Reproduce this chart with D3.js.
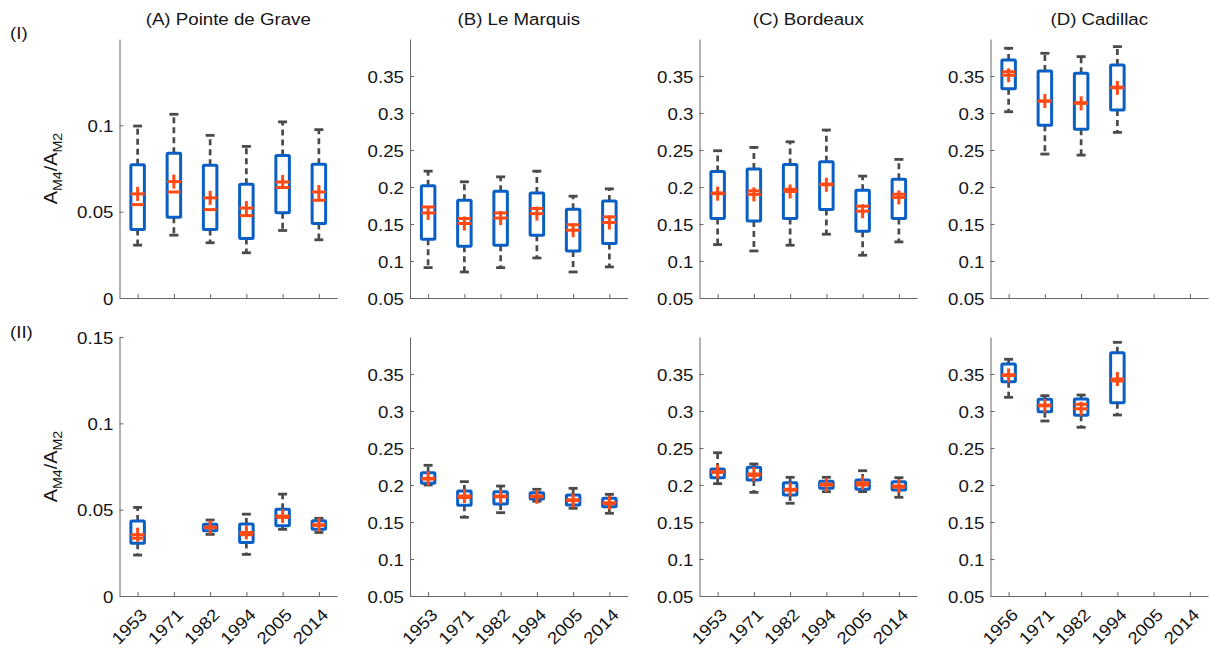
<!DOCTYPE html>
<html><head><meta charset="utf-8">
<script src="https://cdn.jsdelivr.net/npm/d3@7"></script>
<style>
html,body{margin:0;padding:0;background:#fff;}
svg text{font-family:"Liberation Sans",Arial,sans-serif;fill:#141414;}
</style></head>
<body>
<svg id="chart" width="1211" height="648"></svg>
<script>
// ---- data ----
const yearsMain = ["1953", "1971", "1982", "1994", "2005", "2014"];
const yearsCadillac = ["1956", "1971", "1982", "1994", "2005", "2014"];
const stationTitles = ["(A) Pointe de Grave", "(B) Le Marquis", "(C) Bordeaux", "(D) Cadillac"];
const rowLabels = ["(I)", "(II)"];
const ticksA_I = [0, 0.05, 0.1];
const ticksA_II = [0, 0.05, 0.1, 0.15];
const ticksBCD = [0.05, 0.1, 0.15, 0.2, 0.25, 0.3, 0.35];
const tickLabelsA_I = ["0", "0.05", "0.1"];
const tickLabelsA_II = ["0", "0.05", "0.1", "0.15"];
const tickLabelsBCD = ["0.05", "0.1", "0.15", "0.2", "0.25", "0.3", "0.35"];

// [lower whisker, q1, median, q3, upper whisker, mean] ; null = no data
const statsA_I = [
  [0.0306, 0.0397, 0.0541, 0.0771, 0.0996, 0.0603],
  [0.0364, 0.0467, 0.0614, 0.0839, 0.1064, 0.0674],
  [0.0320, 0.0397, 0.0512, 0.0769, 0.0942, 0.0580],
  [0.0262, 0.0345, 0.0477, 0.0659, 0.0878, 0.0521],
  [0.0391, 0.0494, 0.0640, 0.0826, 0.1020, 0.0672],
  [0.0337, 0.0432, 0.0566, 0.0775, 0.0975, 0.0614]
];
const statsB_I = [
  [0.0911, 0.1294, 0.1730, 0.2016, 0.2214, 0.1650],
  [0.0852, 0.1200, 0.1574, 0.1822, 0.2070, 0.1507],
  [0.0910, 0.1213, 0.1650, 0.1944, 0.2137, 0.1580],
  [0.1041, 0.1348, 0.1710, 0.1920, 0.2214, 0.1640],
  [0.0852, 0.1136, 0.1490, 0.1700, 0.1876, 0.1416],
  [0.0920, 0.1235, 0.1596, 0.1810, 0.1975, 0.1520]
];
const statsC_I = [
  [0.1222, 0.1574, 0.1920, 0.2210, 0.2490, 0.1910],
  [0.1136, 0.1542, 0.1948, 0.2242, 0.2535, 0.1900],
  [0.1213, 0.1574, 0.1970, 0.2305, 0.2611, 0.1940],
  [0.1362, 0.1696, 0.2040, 0.2340, 0.2770, 0.2030],
  [0.1078, 0.1403, 0.1740, 0.1957, 0.2147, 0.1673],
  [0.1258, 0.1574, 0.1903, 0.2106, 0.2373, 0.1859]
];
const statsD_I = [
  [0.3017, 0.3328, 0.3558, 0.3717, 0.3875, 0.3510],
  [0.2445, 0.2833, 0.3160, 0.3568, 0.3807, 0.3162],
  [0.2431, 0.2779, 0.3140, 0.3536, 0.3762, 0.3130],
  [0.2738, 0.3040, 0.3350, 0.3649, 0.3897, 0.3340],
  null,
  null
];
const statsA_II = [
  [0.0237, 0.0305, 0.0335, 0.0434, 0.0513, 0.0355],
  null,
  [0.0357, 0.0378, 0.0397, 0.0415, 0.0440, 0.0398],
  [0.0241, 0.0310, 0.0355, 0.0417, 0.0474, 0.0368],
  [0.0386, 0.0407, 0.0455, 0.0503, 0.0590, 0.0463],
  [0.0368, 0.0386, 0.0410, 0.0436, 0.0450, 0.0412]
];
const statsB_II = [
  [0.2000, 0.2023, 0.2080, 0.2166, 0.2266, 0.2090],
  [0.1564, 0.1726, 0.1830, 0.1919, 0.2045, 0.1850],
  [0.1626, 0.1743, 0.1850, 0.1910, 0.1986, 0.1840],
  [0.1780, 0.1811, 0.1850, 0.1896, 0.1942, 0.1840],
  [0.1685, 0.1730, 0.1800, 0.1865, 0.1955, 0.1790],
  [0.1618, 0.1707, 0.1750, 0.1820, 0.1874, 0.1760]
];
const statsC_II = [
  [0.2018, 0.2099, 0.2170, 0.2216, 0.2436, 0.2180],
  [0.1901, 0.2068, 0.2130, 0.2239, 0.2284, 0.2149],
  [0.1753, 0.1865, 0.1930, 0.2031, 0.2104, 0.1942],
  [0.1910, 0.1955, 0.2010, 0.2050, 0.2104, 0.2000],
  [0.1910, 0.1942, 0.2000, 0.2068, 0.2193, 0.2030],
  [0.1834, 0.1932, 0.1970, 0.2045, 0.2099, 0.1986]
];
const statsD_II = [
  [0.3185, 0.3396, 0.3490, 0.3635, 0.3699, 0.3480],
  [0.2865, 0.2991, 0.3080, 0.3158, 0.3207, 0.3070],
  [0.2780, 0.2942, 0.3090, 0.3162, 0.3216, 0.3030],
  [0.2946, 0.3112, 0.3405, 0.3788, 0.3928, 0.3432],
  null,
  null
];

// ---- layout / style ----
const SX = 1.1;
const FS = 17;
const BLUE = "#0a5fc4", ORANGE = "#ff4a14", GRAY = "#4a4a4a", AXIS = "#666666";
const panelLefts = [119.5, 410, 699.5, 990.5];
const panelW = 217.5;
const rowTops = [39, 337];
const panelH = 259;

const svg = d3.select("#chart");

function txt(g, x, y, s, anchor, rot, size) {
  return g.append("text")
    .attr("transform", `translate(${x},${y}) rotate(${rot || 0}) scale(${SX},1)`)
    .attr("text-anchor", anchor || "middle")
    .style("font-size", (size || FS) + "px")
    .text(s);
}

const panels = [
  {row: 0, col: 0, stats: statsA_I, dom: [0, 0.15], ticks: ticksA_I, tl: tickLabelsA_I, years: yearsMain},
  {row: 0, col: 1, stats: statsB_I, dom: [0.05, 0.4], ticks: ticksBCD, tl: tickLabelsBCD, years: yearsMain},
  {row: 0, col: 2, stats: statsC_I, dom: [0.05, 0.4], ticks: ticksBCD, tl: tickLabelsBCD, years: yearsMain},
  {row: 0, col: 3, stats: statsD_I, dom: [0.05, 0.4], ticks: ticksBCD, tl: tickLabelsBCD, years: yearsCadillac},
  {row: 1, col: 0, stats: statsA_II, dom: [0, 0.15], ticks: ticksA_II, tl: tickLabelsA_II, years: yearsMain},
  {row: 1, col: 1, stats: statsB_II, dom: [0.05, 0.4], ticks: ticksBCD, tl: tickLabelsBCD, years: yearsMain},
  {row: 1, col: 2, stats: statsC_II, dom: [0.05, 0.4], ticks: ticksBCD, tl: tickLabelsBCD, years: yearsMain},
  {row: 1, col: 3, stats: statsD_II, dom: [0.05, 0.4], ticks: ticksBCD, tl: tickLabelsBCD, years: yearsCadillac}
];

panels.forEach(p => {
  const x0 = panelLefts[p.col], y0 = rowTops[p.row];
  const g = svg.append("g").attr("transform", `translate(${x0},${y0})`);
  const x = d3.scaleLinear().domain([0.5, 6.5]).range([0, panelW]);
  const y = d3.scaleLinear().domain(p.dom).range([panelH, 0]);

  // y axis
  const ya = g.append("g").call(d3.axisLeft(y).tickValues(p.ticks)
      .tickFormat((d, i) => p.tl[i]).tickSize(-4).tickSizeOuter(0));
  ya.select(".domain").attr("stroke", AXIS);
  ya.selectAll(".tick line").attr("stroke", AXIS);
  ya.selectAll(".tick text").attr("x", 0).attr("dy", "0.36em")
    .attr("transform", `translate(-6,0) scale(${SX},1)`)
    .style("font-size", FS + "px").attr("fill", "#141414").attr("font-family", null);

  // x axis
  const xa = g.append("g").attr("transform", `translate(0,${panelH})`)
    .call(d3.axisBottom(x).tickValues([1, 2, 3, 4, 5, 6])
      .tickFormat(p.row === 1 ? (d => p.years[d - 1]) : () => "")
      .tickSize(-4).tickSizeOuter(0));
  xa.select(".domain").attr("stroke", AXIS);
  xa.selectAll(".tick line").attr("stroke", AXIS);
  xa.selectAll(".tick text").attr("x", 0).attr("y", 0).attr("dy", 0)
    .attr("text-anchor", "end")
    .attr("transform", `translate(10,20) rotate(-45) scale(${SX},1)`)
    .style("font-size", FS + "px").attr("fill", "#141414").attr("font-family", null);

  // boxes
  const boxW = 13.5, capW = 9, medW = 13, plus = 7;
  p.stats.forEach((s, i) => {
    if (!s) return;
    const cx = x(i + 1);
    const [lo, q1, md, q3, hi, mn] = s;
    const bg = g.append("g");
    // whiskers
    bg.append("line").attr("x1", cx).attr("x2", cx).attr("y1", y(q3)).attr("y2", y(hi))
      .attr("stroke", GRAY).attr("stroke-width", 2.7).attr("stroke-dasharray", "6,4");
    bg.append("line").attr("x1", cx).attr("x2", cx).attr("y1", y(q1)).attr("y2", y(lo))
      .attr("stroke", GRAY).attr("stroke-width", 2.7).attr("stroke-dasharray", "6,4");
    // caps
    [lo, hi].forEach(v => bg.append("line").attr("x1", cx - capW / 2).attr("x2", cx + capW / 2)
      .attr("y1", y(v)).attr("y2", y(v)).attr("stroke", GRAY).attr("stroke-width", 2.8));
    // box
    bg.append("rect").attr("x", cx - boxW / 2).attr("y", y(q3))
      .attr("width", boxW).attr("height", Math.max(0.5, y(q1) - y(q3)))
      .attr("fill", "none").attr("stroke", BLUE).attr("stroke-width", 3).attr("rx", 1);
    // median
    bg.append("line").attr("x1", cx - medW / 2).attr("x2", cx + medW / 2)
      .attr("y1", y(md)).attr("y2", y(md)).attr("stroke", ORANGE).attr("stroke-width", 3);
    // mean (+)
    bg.append("line").attr("x1", cx - plus).attr("x2", cx + plus)
      .attr("y1", y(mn)).attr("y2", y(mn)).attr("stroke", ORANGE).attr("stroke-width", 3);
    bg.append("line").attr("x1", cx).attr("x2", cx)
      .attr("y1", y(mn) - plus).attr("y2", y(mn) + plus).attr("stroke", ORANGE).attr("stroke-width", 3);
  });

  // titles
  if (p.row === 0) txt(svg, x0 + panelW / 2, 25, stationTitles[p.col], "middle", 0, FS);
});

// row labels
txt(svg, 10, 39, rowLabels[0], "start", 0, FS);
txt(svg, 10, 338, rowLabels[1], "start", 0, FS);

// y axis labels (A_M4 / A_M2)
[rowTops[0] + panelH / 2, rowTops[1] + panelH / 2].forEach(cy => {
  const t = svg.append("text")
    .attr("transform", `translate(57,${cy}) rotate(-90) scale(${SX},1)`)
    .attr("text-anchor", "middle").style("font-size", "18px");
  t.append("tspan").text("A");
  t.append("tspan").attr("dy", 5).style("font-size", "13px").text("M4");
  t.append("tspan").attr("dy", -5).text("/A");
  t.append("tspan").attr("dy", 5).style("font-size", "13px").text("M2");
});
</script>
</body></html>
